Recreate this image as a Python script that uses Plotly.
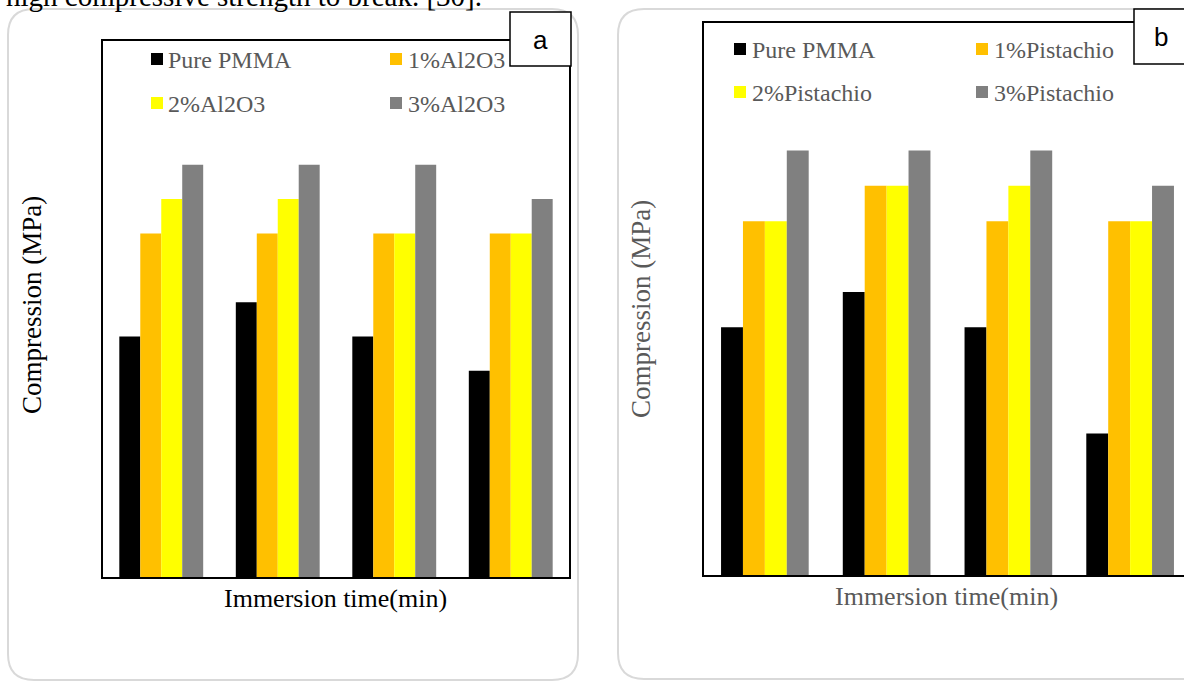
import plotly.graph_objects as go

W, H = 1184, 682

categories = ["t1", "t2", "t3", "t4"]
colors = ["#000000", "#FFC000", "#FFFF00", "#808080"]

names_a = ["Pure PMMA", "1%Al2O3", "2%Al2O3", "3%Al2O3"]
pure_a = [70, 80, 70, 60]
al1_a = [100, 100, 100, 100]
al2_a = [110, 110, 100, 100]
al3_a = [120, 120, 120, 110]

names_b = ["Pure PMMA", "1%Pistachio", "2%Pistachio", "3%Pistachio"]
pure_b = [70, 80, 70, 40]
pi1_b = [100, 110, 100, 100]
pi2_b = [100, 110, 110, 100]
pi3_b = [120, 120, 120, 110]

series_a = [pure_a, al1_a, al2_a, al3_a]
series_b = [pure_b, pi1_b, pi2_b, pi3_b]


def px(x):
    return x / W


def py(y):
    return 1 - y / H


fig = go.Figure()
for name, vals, col in zip(names_a, series_a, colors):
    fig.add_trace(go.Bar(x=categories, y=vals, name=name, marker=dict(color=col, line=dict(width=0)),
                         xaxis="x", yaxis="y", showlegend=False))
for name, vals, col in zip(names_b, series_b, colors):
    fig.add_trace(go.Bar(x=categories, y=vals, name=name, marker=dict(color=col, line=dict(width=0)),
                         xaxis="x2", yaxis="y2", showlegend=False))

SERIF = "Liberation Serif"
GRAY_TXT = "#595959"

axis_common = dict(showgrid=False, zeroline=False, showticklabels=False, ticks="", fixedrange=True)

fig.update_layout(
    width=W, height=H,
    margin=dict(l=0, r=0, t=0, b=0),
    paper_bgcolor="white", plot_bgcolor="white",
    barmode="group", bargap=0.28, bargroupgap=0,
    xaxis=dict(domain=[px(103), px(569)], anchor="y", range=[-0.5, 3.5],
               showline=True, linecolor="black", linewidth=2, mirror=True, **axis_common),
    yaxis=dict(domain=[py(577), py(41)], anchor="x", range=[0, 156],
               showline=True, linecolor="black", linewidth=2, mirror=True, **axis_common),
    xaxis2=dict(domain=[px(704), 1.0], anchor="y2", range=[-0.5, -0.5 + 4 * 480 / 487],
                showline=True, linecolor="black", linewidth=1.5, mirror=True, **axis_common),
    yaxis2=dict(domain=[py(575), py(23)], anchor="x2", range=[0, 156],
                showline=True, linecolor="black", linewidth=1.5, mirror=False, **axis_common),
    font=dict(family=SERIF),
)


def rounded_path(x0, y0, x1, y1, r):
    rx, ry = r / W, r / H
    X0, X1 = px(x0), px(x1)
    Y0, Y1 = py(y0), py(y1)
    return (f"M {X0+rx},{Y0} L {X1-rx},{Y0} Q {X1},{Y0} {X1},{Y0-ry} "
            f"L {X1},{Y1+ry} Q {X1},{Y1} {X1-rx},{Y1} "
            f"L {X0+rx},{Y1} Q {X0},{Y1} {X0},{Y1+ry} "
            f"L {X0},{Y0-ry} Q {X0},{Y0} {X0+rx},{Y0} Z")


shapes = [
    dict(type="path", xref="paper", yref="paper", path=rounded_path(8, 9, 578, 680, 26),
         line=dict(color="#d9d9d9", width=2), layer="below"),
    dict(type="path", xref="paper", yref="paper", path=rounded_path(618, 9, 1240, 679, 26),
         line=dict(color="#d9d9d9", width=2), layer="below"),
    # panel label boxes
    dict(type="rect", xref="paper", yref="paper", x0=px(510), x1=px(571), y0=py(66), y1=py(12),
         line=dict(color="black", width=1.5), fillcolor="white", layer="above"),
    dict(type="rect", xref="paper", yref="paper", x0=px(1134), x1=px(1200), y0=py(64), y1=py(9),
         line=dict(color="black", width=1.5), fillcolor="white", layer="above"),
]

annotations = []

# manual legends (two columns, two rows)
leg_a = [(157, 59, 166), (396, 59, 406), (157, 103, 166), (396, 103, 406)]
leg_b = [(740, 49, 750), (982, 49, 992), (740, 92, 750), (982, 92, 992)]
for names, pos in ((names_a, leg_a), (names_b, leg_b)):
    for name, col, (cx, cy, tx) in zip(names, colors, pos):
        shapes.append(dict(type="rect", xref="paper", yref="paper",
                           x0=px(cx - 6), x1=px(cx + 6), y0=py(cy + 6), y1=py(cy - 6),
                           line=dict(width=0), fillcolor=col, layer="above"))
        annotations.append(dict(xref="paper", yref="paper", x=px(tx), y=py(cy + 1),
                                xanchor="left", yanchor="middle", showarrow=False, text=name,
                                font=dict(family=SERIF, size=24, color=GRAY_TXT)))


def center_text(x, y, text, size, color, family=SERIF, angle=0):
    return dict(xref="paper", yref="paper", x=px(x), y=py(y), xanchor="center", yanchor="middle",
                showarrow=False, text=text, textangle=angle,
                font=dict(family=family, size=size, color=color))


# axis titles and panel labels
annotations += [
    center_text(335, 598, "Immersion time(min)", 26, "#000000"),
    center_text(32, 305, "Compression (MPa)", 27, "#000000", angle=-90),
    center_text(946, 596, "Immersion time(min)", 26, GRAY_TXT),
    center_text(641, 309, "Compression (MPa)", 27, GRAY_TXT, angle=-90),
    center_text(540.5, 40, "a", 26, "black", family="Liberation Sans"),
    center_text(1161, 37, "b", 26, "black", family="Liberation Sans"),
    # cropped document text at top
    dict(xref="paper", yref="paper", x=px(4), y=py(14), xanchor="left", yanchor="bottom",
         showarrow=False, text="high compressive strength to break. [30].",
         font=dict(family=SERIF, size=29, color="black")),
]

fig.update_layout(shapes=shapes, annotations=annotations)

fig.write_html("out.html")
